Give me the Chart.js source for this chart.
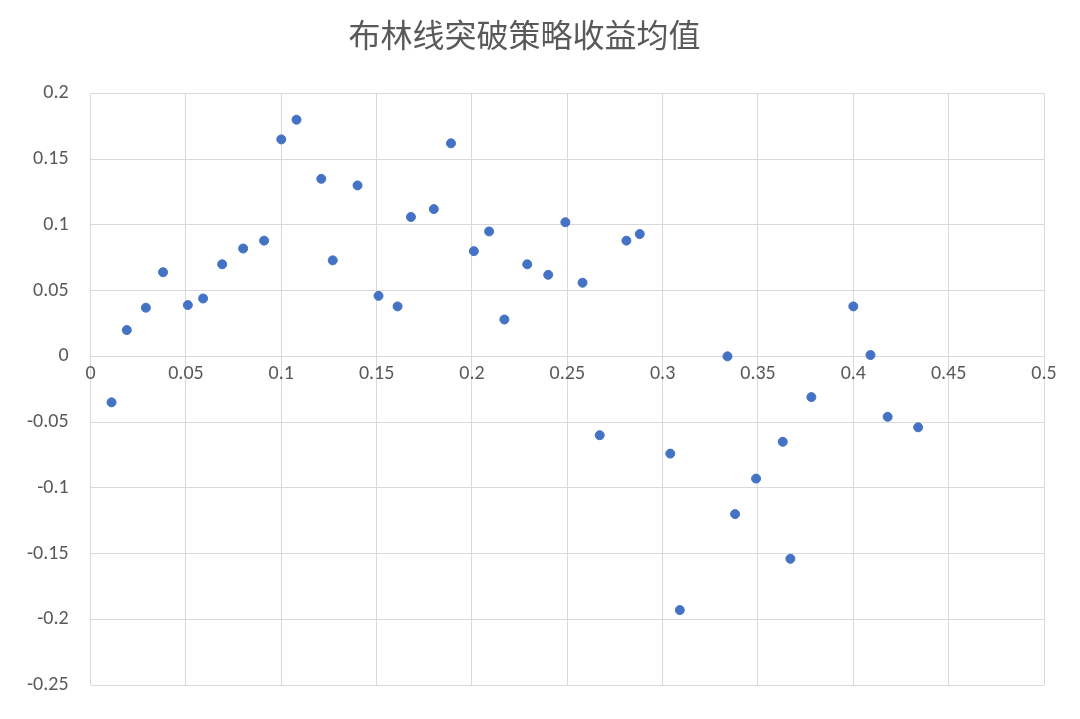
<!DOCTYPE html>
<html>
<head>
<meta charset="utf-8">
<style>
  html, body { margin: 0; padding: 0; background: #fff; }
  #wrap { width: 1080px; height: 719px; }
</style>
<script src="https://cdn.jsdelivr.net/npm/chart.js@4"></script>
</head>
<body>
<div id="wrap"><canvas id="c" width="1080" height="719"></canvas></div>
<script>
var chartTitle = '布林线突破策略收益均值';
var xValues = [0.011, 0.019, 0.029, 0.038, 0.051, 0.059, 0.069, 0.080, 0.091, 0.100,
  0.108, 0.121, 0.127, 0.140, 0.151, 0.161, 0.168, 0.180, 0.189, 0.201,
  0.209, 0.217, 0.229, 0.240, 0.249, 0.258, 0.267, 0.281, 0.288, 0.304,
  0.309, 0.334, 0.338, 0.349, 0.363, 0.367, 0.378, 0.400, 0.409, 0.418, 0.434];
var yValues = [-0.035, 0.020, 0.037, 0.064, 0.039, 0.044, 0.070, 0.082, 0.088, 0.165,
  0.180, 0.135, 0.073, 0.130, 0.046, 0.038, 0.106, 0.112, 0.162, 0.080,
  0.095, 0.028, 0.070, 0.062, 0.102, 0.056, -0.060, 0.088, 0.093, -0.074,
  -0.193, 0, -0.120, -0.093, -0.065, -0.154, -0.031, 0.038, 0.001, -0.046, -0.054];

var points = xValues.map(function(x, i) { return { x: x, y: yValues[i] }; });

function fmt(v) {
  return (Math.round(v * 100) / 100).toString();
}

new Chart(document.getElementById('c'), {
  type: 'scatter',
  data: {
    datasets: [{
      data: points, backgroundColor: '#4472C4', borderColor: '#4472C4',
      pointRadius: 4.5, pointHoverRadius: 4.5
    }]
  },
  options: {
    responsive: false, animation: false,
    layout: { padding: { left: 5, right: 36, top: 8, bottom: 16 } },
    plugins: {
      legend: { display: false },
      tooltip: { enabled: false },
      title: {
        display: true, text: chartTitle, color: '#595959',
        font: { family: 'Noto Sans CJK SC', size: 32, weight: 'normal' },
        padding: { top: 8, bottom: 39 }
      }
    },
    scales: {
      x: {
        type: 'linear', min: 0, max: 0.5, position: { y: 0 },
        ticks: { stepSize: 0.05, color: '#595959', font: { family: 'Calibri, Carlito, Liberation Sans', size: 20 }, callback: fmt, maxRotation: 0, padding: 6 },
        grid: { color: '#d9d9d9', drawTicks: false },
        border: { color: '#d9d9d9' }
      },
      y: {
        min: -0.25, max: 0.2,
        ticks: { stepSize: 0.05, color: '#595959', font: { family: 'Calibri, Carlito, Liberation Sans', size: 20 }, callback: fmt, padding: 22 },
        grid: { color: '#d9d9d9', drawTicks: false },
        border: { display: false }
      }
    }
  }
});
</script>
</body>
</html>
